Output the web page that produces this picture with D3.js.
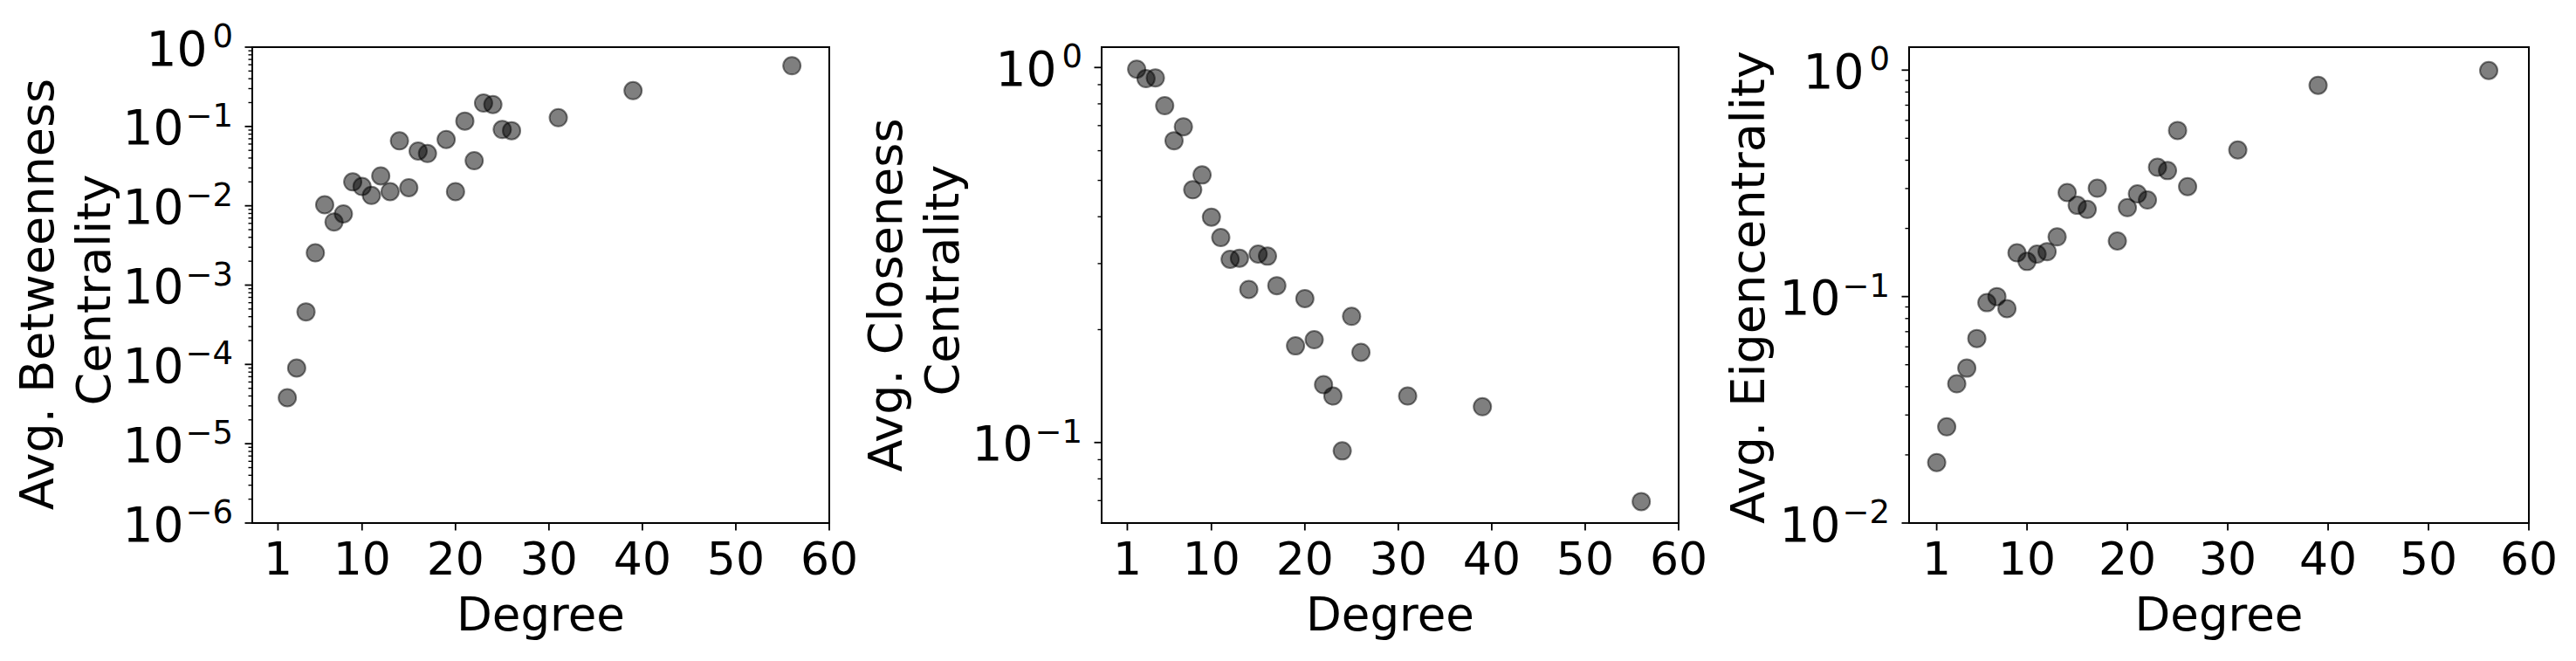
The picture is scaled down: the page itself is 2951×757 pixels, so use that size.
<!DOCTYPE html>
<html><head><meta charset="utf-8">
<script src="https://cdn.jsdelivr.net/npm/d3@7"></script>
<style>
body{margin:0;background:#fff}
svg{display:block;background:#fff}
text{font-family:"DejaVu Sans",sans-serif;fill:#000}
</style>
</head><body>
<svg id="chart" width="2951" height="757"></svg>
<script>
// ---- data ----
const xTickValues = [1, 10, 20, 30, 40, 50, 60];
const xLabel = "Degree";

const betweenDegree = [2,3,4,5,6,7,8,9,10,11,12,13,14,15,16,17,19,20,21,22,23,24,25,26,31,39,56];
const betweenValue  = [3.8e-5,9.0e-5,4.6e-4,2.55e-3,1.03e-2,6.25e-3,7.9e-3,0.020,0.0175,0.0135,0.0238,0.0151,0.0658,0.0169,0.049,0.0456,0.0685,0.0151,0.117,0.037,0.197,0.189,0.0916,0.0885,0.129,0.283,0.583];
const betweenTickExp = [0,-1,-2,-3,-4,-5,-6];

const closeDegree = [2,3,4,5,6,7,8,9,10,11,12,13,14,15,16,17,19,20,21,22,23,24,25,26,31,39,56];
const closeValue  = [0.99,0.934,0.938,0.791,0.638,0.695,0.472,0.517,0.399,0.352,0.308,0.310,0.256,0.318,0.314,0.262,0.181,0.242,0.188,0.1426,0.133,0.095,0.217,0.174,0.133,0.1246,0.0696];
const closeTickExp = [0,-1];

const eigenDegree = [1,2,3,4,5,6,7,8,9,10,11,12,13,14,15,16,17,19,20,21,22,23,24,25,26,31,39,56];
const eigenValue  = [0.0185,0.0266,0.0412,0.0483,0.0653,0.094,0.100,0.0885,0.156,0.143,0.154,0.158,0.1835,0.288,0.253,0.2426,0.301,0.176,0.247,0.284,0.267,0.3725,0.360,0.5415,0.306,0.444,0.857,0.996];
const eigenTickExp = [0,-1,-2];

const betweenLabel = ["Avg. Betweenness", "Centrality"];
const closeLabel = ["Avg. Closeness", "Centrality"];
const eigenLabel = ["Avg. Eigencentrality"];

// ---- layout ----
const TOP = 54, BOTTOM = 599;
const xDomain = [-1.75, 60];
const panels = [
  {deg: betweenDegree, val: betweenValue, exps: betweenTickExp, label: betweenLabel,
   left: 289, right: 950, yDomain: [1e-6, 1], labelBase: [228, 163], labelCenter: [337, 332]},
  {deg: closeDegree, val: closeValue, exps: closeTickExp, label: closeLabel,
   left: 1262, right: 1923, yDomain: [Math.pow(10,-1.2147), Math.pow(10,0.05425)], labelBase: [229, 164], labelCenter: [338, 321]},
  {deg: eigenDegree, val: eigenValue, exps: eigenTickExp, label: eigenLabel,
   left: 2187, right: 2897, yDomain: [0.01, Math.pow(10,0.1014)], labelBase: [166], labelCenter: [329]}
];

const svg = d3.select("#chart");

panels.forEach(p => {
  const x = d3.scaleLinear().domain(xDomain).range([p.left, p.right]);
  const y = d3.scaleLog().domain(p.yDomain).range([BOTTOM, TOP]);
  const g = svg.append("g");

  // points
  const pts = p.deg.map((d, i) => ({d, v: p.val[i]}));
  g.append("g").selectAll("circle").data(pts).join("circle")
    .attr("cx", d => x(d.d)).attr("cy", d => y(d.v)).attr("r", 10)
    .attr("fill", "#000").attr("fill-opacity", 0.5)
    .attr("stroke", "#000").attr("stroke-opacity", 0.5).attr("stroke-width", 2);

  // x axis ticks
  const xa = g.append("g");
  xTickValues.forEach(t => {
    xa.append("line").attr("x1", x(t)).attr("x2", x(t)).attr("y1", BOTTOM).attr("y2", BOTTOM + 8.5)
      .attr("stroke", "#000").attr("stroke-width", 1.8);
    xa.append("text").attr("x", x(t)).attr("y", 658).attr("text-anchor", "middle")
      .attr("font-size", 52).text(t);
  });
  xa.append("text").attr("x", (p.left + p.right) / 2).attr("y", 722).attr("text-anchor", "middle")
    .attr("font-size", 53).text(xLabel);

  // y minor ticks
  const [lo, hi] = p.yDomain;
  const minors = [];
  for (let k = Math.floor(Math.log10(lo)); k <= Math.ceil(Math.log10(hi)); k++) {
    for (let m = 2; m <= 9; m++) {
      const v = m * Math.pow(10, k);
      if (v >= lo && v <= hi) minors.push(v);
    }
  }
  g.append("g").selectAll("line").data(minors).join("line")
    .attr("x1", p.left - 4.5).attr("x2", p.left).attr("y1", d => y(d)).attr("y2", d => y(d))
    .attr("stroke", "#000").attr("stroke-width", 1.4);

  // y major ticks + labels
  p.exps.forEach(e => {
    const yy = y(Math.pow(10, e));
    g.append("line").attr("x1", p.left - 8.5).attr("x2", p.left).attr("y1", yy).attr("y2", yy)
      .attr("stroke", "#000").attr("stroke-width", 1.8);
    const t = g.append("text").attr("x", p.left - 22).attr("y", yy + 20.5).attr("text-anchor", "end");
    t.append("tspan").attr("font-size", 55).text("10");
    t.append("tspan").attr("font-size", 37).attr("dy", -20.5).attr("dx", e === 0 ? 6 : 2)
      .text(e === 0 ? "0" : "\u2212" + Math.abs(e));
  });

  // y label (rotated)
  p.label.forEach((line, i) => {
    g.append("text")
      .attr("transform", `translate(${p.left - p.labelBase[i]},${p.labelCenter[i]}) rotate(-90)`)
      .attr("text-anchor", "middle").attr("font-size", 54).text(line);
  });

  // frame
  g.append("rect").attr("x", p.left).attr("y", TOP).attr("width", p.right - p.left).attr("height", BOTTOM - TOP)
    .attr("fill", "none").attr("stroke", "#000").attr("stroke-width", 2);
});
</script>
</body></html>
